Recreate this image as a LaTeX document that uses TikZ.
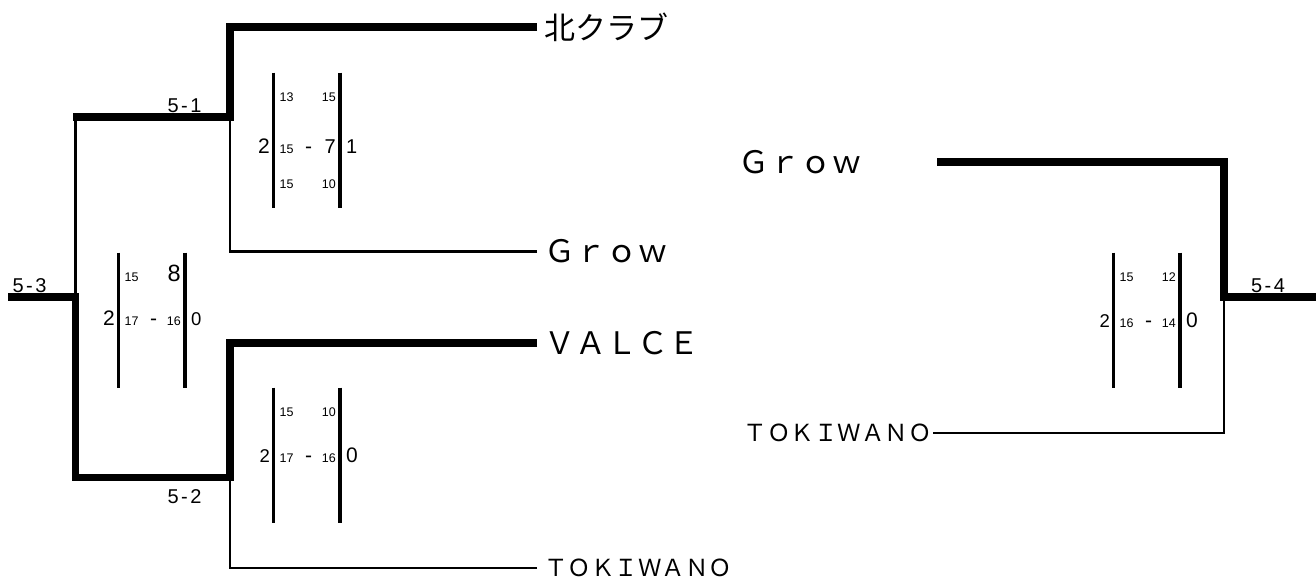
\documentclass[tikz,border=0pt]{standalone}
\usepackage{fontspec}
\setmainfont{Liberation Sans}
\newfontfamily\jpfont{Noto Sans CJK JP}
\usetikzlibrary{positioning}
\newcommand\sz[2]{{\fontsize{#1}{#1}\selectfont #2}}

\begin{document}
\begin{tikzpicture}[x=1pt, y=-1pt,
        win/.style={line width=7.5pt},
        lose/.style={line width=2.6pt},
        bar/.style={line width=3.2pt},
        team/.style={font=\jpfont\fontsize{31}{33}\selectfont, inner xsep=7pt, inner ysep=0pt},
        teamsm/.style={team, font=\jpfont\fontsize{23.5}{26}\selectfont},
        tiny/.style={font=\fontsize{12.5}{14}\selectfont, inner sep=0pt},
        big/.style={font=\fontsize{21}{23}\selectfont, inner sep=0pt},
        matchno/.style={font=\fontsize{20}{22}\selectfont, inner sep=0pt, anchor=base}]
    \useasboundingbox (0,0) rectangle (1316,581);

    % teams
    \node[team, anchor=west] (kita) at (537,27) {北クラブ};
    \node[team, anchor=west] (grow1) at (537,251.5) {Ｇｒｏｗ};
    \node[team, anchor=west] (valce) at (537,343) {ＶＡＬＣＥ};
    \node[teamsm, anchor=west] (toki1) at (537,568) {ＴＯＫＩＷＡＮＯ};
    \node[team, anchor=east, text width=191pt, align=left] (grow2) at (937,162) {Ｇｒｏｗ};
    \node[teamsm, anchor=east, inner xsep=1pt] (toki2) at (933,433) {ＴＯＫＩＷＡＮＯ};

    % match points
    \coordinate (m51) at (230,117);
    \coordinate (m52) at (230,477.5);
    \coordinate (m53) at (75.5,297);
    \coordinate (e53) at (8,297);
    \coordinate (m54) at (1224,297);
    \coordinate (e54) at (1316,297);

    \draw[win] (kita.west) -| (m51) -- ([xshift=-2.5pt]m51 -| m53);
    \draw[lose] (grow1.west) -| (m51);
    \draw[lose] (m51 -| m53) -- (m53);
    \draw[win] (valce.west) -| (m52) -- (m52 -| m53) -- (m53) -- (e53);
    \draw[lose] (toki1.west) -| (m52);
    \draw[win] (grow2.east) -| (m54) -- (e54);
    \draw[lose] (toki2.east) -| (m54);

    \node[matchno] (l51) at (184.5,112) {5\kern2.5pt-\kern2.5pt1};
    \node[matchno] (l52) at (184.5,503) {5\kern2.5pt-\kern2.5pt2};
    \node[matchno] (l53) at (29.5,292) {5\kern2.5pt-\kern2.5pt3};
    \node[matchno] (l54) at (1268,292) {5\kern2.5pt-\kern2.5pt4};

    % scores
    \foreach \n/\cx/\cy/\mo/\sl/\sr/\ta/\tb/\ma/\mb/\ba/\bb in {
            a/307/140/13/2/\sz{20}{1}/13/15/15/\sz{20}{7}/15/10,
            b/152/320/5/2/\sz{18.5}{0}/15/\sz{23.5}{8}/17/16/{}/{},
            c/307/455/7/\sz{18.5}{2}/0/15/10/17/16/{}/{},
            d/1147/320/7/\sz{18.5}{2}/0/15/12/16/14/{}/{}}
    {
        \draw[bar] (\cx-33.5,\cy-67.5) -- (\cx-33.5,\cy+67.5);
        \draw[bar] (\cx+33,\cy-67.5) -- (\cx+33,\cy+67.5);
        \node[big, anchor=base east] (\n-l) at (\cx-37,\cy+\mo) {\sl};
        \node[big, anchor=base west] (\n-r) at (\cx+39,\cy+\mo) {\sr};
        \node[tiny, anchor=base west] (\n-ta) at (\cx-27.5,\cy-39) {\ta};
        \node[tiny, anchor=base east] (\n-tb) at (\cx+29,\cy-39) {\tb};
        \node[tiny, anchor=base west] (\n-ma) at (\cx-27.5,\cy+\mo) {\ma};
        \node[big, anchor=base] (\n-d) at (\cx+1.5,\cy+\mo) {-};
        \node[tiny, anchor=base east] (\n-mb) at (\cx+29,\cy+\mo) {\mb};
        \node[tiny, anchor=base west] (\n-ba) at (\cx-27.5,\cy+48) {\ba};
        \node[tiny, anchor=base east] (\n-bb) at (\cx+29,\cy+48) {\bb};
    }
\end{tikzpicture}
\end{document}
